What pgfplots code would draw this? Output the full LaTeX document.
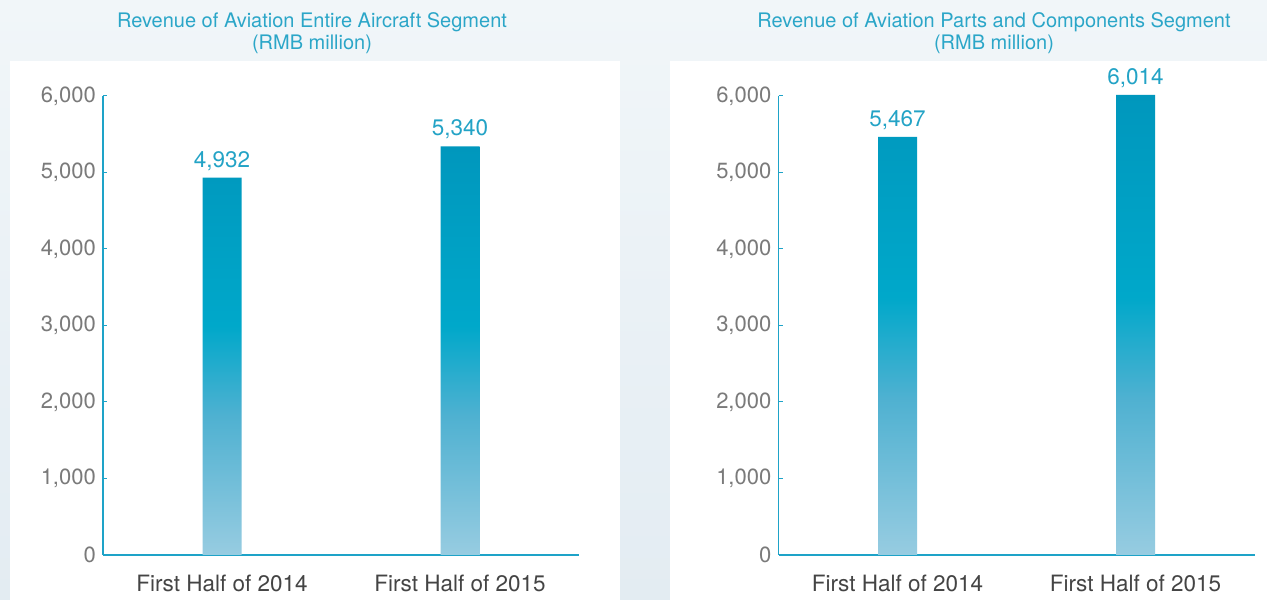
\documentclass[border=0pt]{standalone}
\usepackage{fontspec}
\setmainfont{TeX Gyre Heros}
\usepackage{pgfplots}
\pgfplotsset{compat=1.18}
\definecolor{bgtop}{HTML}{F1F6F9}
\definecolor{bgbot}{HTML}{E3ECF2}
\definecolor{axisc}{HTML}{1EA3C8}
\definecolor{titlec}{HTML}{2BA6C8}
\definecolor{valc}{HTML}{23A3C6}
\definecolor{tickgray}{HTML}{7A7A7A}
\definecolor{labgray}{HTML}{444444}
\definecolor{bartop}{HTML}{0097BD}
\definecolor{barmid}{HTML}{00A8CA}
\definecolor{barmid2}{HTML}{4FB1D1}
\definecolor{barlow}{HTML}{97CCE1}
\pgfdeclareverticalshading{barshade}{100bp}{color(0bp)=(barlow); color(25bp)=(barlow); color(42bp)=(barmid2); color(53bp)=(barmid); color(75bp)=(bartop); color(100bp)=(bartop)}
\pgfplotstableread{
x y
0 4932
1 5340
}\leftdata
\pgfplotstableread{
x y
0 5467
1 6014
}\rightdata
\pgfplotsset{
  rev/.style={
    scale only axis, height=459pt, width=476pt,
    xmin=-0.5, xmax=1.5, ymin=0, ymax=6000,
    axis x line=bottom, axis y line=left,
    axis line style={-, draw=axisc, line width=1.1pt},
    xtick={0,1}, xticklabels={First Half of 2014, First Half of 2015},
    x tick style={draw=none},
    xticklabel style={font=\fontsize{22.5}{22.5}\selectfont, text=labgray, anchor=north, inner sep=0pt, yshift=-16pt},
    ytick={0,1000,...,6000}, ytick align=inside,
    y tick style={draw=axisc, line width=1pt}, major tick length=4pt,
    yticklabel style={font=\fontsize{22}{22}\selectfont, text=tickgray, anchor=east, inner sep=0pt, xshift=-7pt},
    /pgf/number format/.cd, 1000 sep={,}, assume math mode=true, /pgfplots/.cd,
    clip=false, ybar, bar width=39pt,
    nodes near coords,
    nodes near coords style={font=\fontsize{22.5}{22.5}\selectfont, text=valc, anchor=south, inner sep=0pt, yshift=7pt},
  }
}
\begin{document}
\begin{tikzpicture}[x=1pt,y=1pt]
\useasboundingbox (0,0) rectangle (1267,600);
\shade[top color=bgtop, bottom color=bgbot] (0,0) rectangle (1267,600);
\fill[white] (10,0) rectangle (620,539);
\fill[white] (670,0) rectangle (1267,539);
\node[text=titlec, font=\fontsize{20}{20}\selectfont, align=center] at (312,567) {Revenue of Aviation Entire Aircraft Segment\\[2pt](RMB million)};
\node[text=titlec, font=\fontsize{20}{20}\selectfont, align=center] at (994,567) {Revenue of Aviation Parts and Components Segment\\[2pt](RMB million)};
\begin{axis}[rev, at={(103pt,45pt)}, anchor=south west]
\addplot[draw=none, shade, shading=barshade] table[x=x,y=y] {\leftdata};
\end{axis}
\begin{axis}[rev, at={(778.5pt,45pt)}, anchor=south west]
\addplot[draw=none, shade, shading=barshade] table[x=x,y=y] {\rightdata};
\end{axis}
\end{tikzpicture}
\end{document}
